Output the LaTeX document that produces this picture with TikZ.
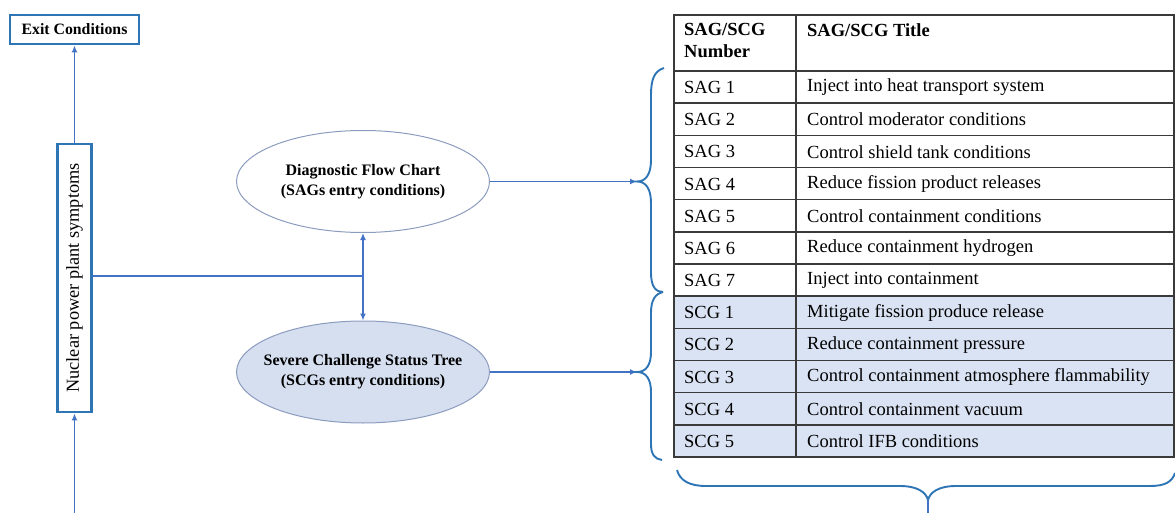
\documentclass[tikz,border=0pt]{standalone}
\usepackage{fontspec}
\setmainfont{Liberation Serif}
\usetikzlibrary{arrows.meta,shapes.geometric}
\definecolor{arrblue}{HTML}{4472C4}
\definecolor{boxblue}{HTML}{2E75B6}
\definecolor{bracecol}{HTML}{2E75B6}
\definecolor{ellfill}{HTML}{D6DFF0}
\definecolor{ellline}{HTML}{8C9CBF}
\definecolor{gridcol}{HTML}{3A3A3A}
\definecolor{rowfill}{HTML}{DAE3F3}
\begin{document}
\begin{tikzpicture}[x=1pt,y=-1pt,
  arr/.style={draw=arrblue, line width=1.8pt, -{Latex[length=7pt,width=6pt]}},
  darr/.style={draw=arrblue, line width=1.8pt, {Latex[length=7pt,width=6pt]}-{Latex[length=7pt,width=6pt]}},
  plainline/.style={draw=arrblue, line width=1.8pt},
  bluebox/.style={draw=boxblue, line width=2.8pt, fill=white, inner sep=0pt},
  ell/.style={ellipse, draw=ellline, line width=1pt, minimum width=253pt, minimum height=102pt, inner sep=0pt},
  elltext/.style={align=center, inner sep=0pt, font=\fontsize{16}{20}\selectfont\bfseries},
  bracepath/.style={draw=bracecol, line width=1.9pt},
  cell/.style={anchor=west, inner sep=0pt, font=\fontsize{18.5}{22}\selectfont},
  hd/.style={anchor=north west, inner sep=0pt, align=left, font=\fontsize{18.5}{22}\selectfont\bfseries},
]
\useasboundingbox (0,0) rectangle (1175,513);

% left column
\node[bluebox, minimum width=129pt, minimum height=29pt, font=\fontsize{15.8}{18}\selectfont\bfseries] (exit) at (74.5,29.5) {Exit Conditions};
\node[bluebox, minimum width=34pt, minimum height=268pt, font=\fontsize{18.3}{22}\selectfont] (sym) at (74.5,278) {\rotatebox{90}{Nuclear power plant symptoms}};
\coordinate (inp) at (74.5,513);
\draw[arr] (inp) -- (sym.south);
\draw[arr] (sym.north) -- (exit.south);

% ellipses
\node[ell, fill=white] (dfc) at (363,181.5) {};
\node[elltext] (dfct) at (dfc.center) {Diagnostic Flow Chart\\(SAGs entry conditions)};
\node[ell, fill=ellfill] (scst) at (363,372) {};
\node[elltext] (scstt) at (scst.center) {Severe Challenge Status Tree\\(SCGs entry conditions)};
\coordinate (j) at (363,276);
\draw[plainline] (sym.east |- j) -- (j);
\draw[darr] (dfc.south) -- (scst.north);

% brace tips
\coordinate (tipA) at (637,181.5);
\coordinate (tipB) at (637,372);
\draw[arr] (dfc.east) -- (tipA);
\draw[arr] (scst.east) -- (tipB);

% braces
\draw[bracepath] (664,68) .. controls (654,71) and (651,80) .. (651,95) -- (651,160)
  .. controls (651,174) and (646,181.5) .. (tipA)
  .. controls (646,181.5) and (651,189) .. (651,203) -- (651,273)
  .. controls (651,287) and (656,292) .. (663,292);
\draw[bracepath] (663,292) .. controls (655,294) and (651,300) .. (651,313) -- (651,352)
  .. controls (651,365) and (646,372) .. (tipB)
  .. controls (646,372) and (651,379) .. (651,392) -- (651,444)
  .. controls (651,455) and (655,459) .. (662,460);
\coordinate (tipC) at (928,500);
\coordinate (outC) at (928,513);
\draw[bracepath] (677,470) .. controls (680,481) and (690,486) .. (706,486) -- (900,486)
  .. controls (917,486) and (926,492) .. (tipC)
  .. controls (930,492) and (939,486) .. (956,486) -- (1150,486)
  .. controls (1165,486) and (1172,482) .. (1175,473);
\draw[plainline] (tipC) -- (outC);

% table
\fill[rowfill] (674,295.04) rectangle (1174,457);
\foreach \i in {1,...,11} {
  \draw[gridcol, line width=1.4pt] (674,{71+32.17*\i}) -- (1174,{71+32.17*\i});
}
\draw[gridcol, line width=1.4pt] (674,71) -- (1174,71);
\draw[gridcol, line width=1.5pt] (674,15) rectangle (1174,457);
\draw[gridcol, line width=1.4pt] (796,15) -- (796,457);

\node[hd] (hnum) at (684,23) {SAG/SCG\\Number};
\node[hd] (htit) at (807,23) {SAG/SCG Title};

\foreach \k/\num/\title [count=\r from 0] in {
  1/SAG 1/Inject into heat transport system,
  2/SAG 2/Control moderator conditions,
  3/SAG 3/Control shield tank conditions,
  4/SAG 4/Reduce fission product releases,
  5/SAG 5/Control containment conditions,
  6/SAG 6/Reduce containment hydrogen,
  7/SAG 7/Inject into containment,
  8/SCG 1/Mitigate fission produce release,
  9/SCG 2/Reduce containment pressure,
  10/SCG 3/Control containment atmosphere flammability,
  11/SCG 4/Control containment vacuum,
  12/SCG 5/Control IFB conditions} {
  \node[cell] (num\k) at (684,{71+32.17*\r+16.5}) {\num};
  \node[cell] (tit\k) at (807,{71+32.17*\r+16.5}) {\title};
}
\end{tikzpicture}
\end{document}
